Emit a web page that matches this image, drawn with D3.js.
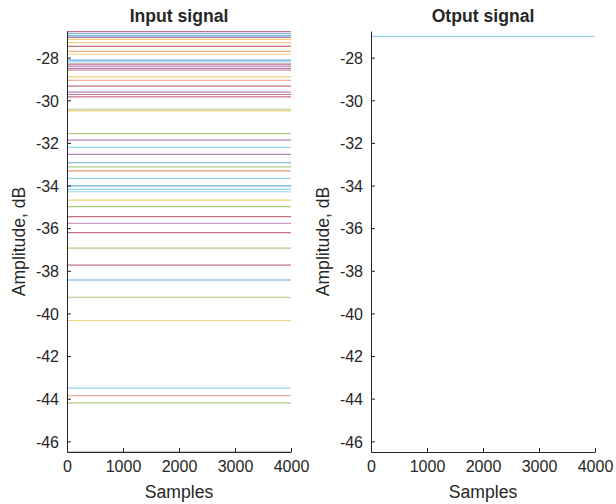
<!DOCTYPE html>
<html>
<head>
<meta charset="utf-8">
<script src="https://cdn.jsdelivr.net/npm/d3@7"></script>
<style>
  body{margin:0;background:#fff;}
  svg text{font-family:"Liberation Sans",Arial,sans-serif;fill:#262626;}
</style>
</head>
<body>
<svg id="plot" width="616" height="504"></svg>
<script>
//Data: every input channel is a flat level in dB over 0..4000 samples
const sampleRange = [0, 4000];
const xTicks = [0, 1000, 2000, 3000, 4000];
const yTicks = [-46, -44, -42, -40, -38, -36, -34, -32, -30, -28];
const yLimits = [-46.5, -26.75];

const inputLevels = [-26.78, -26.88, -26.98, -27.05, -27.14, -27.30, -27.47, -27.70, -27.84, -28.12,
    -28.20, -28.30, -28.40, -28.50, -28.58, -28.90, -29.06, -29.34, -29.62, -29.73,
    -29.84, -30.42, -30.50, -31.56, -31.87, -32.21, -32.54, -32.93, -33.12, -33.31,
    -33.66, -34.02, -34.18, -34.29, -34.68, -34.99, -35.46, -35.77, -36.21, -36.94,
    -37.73, -38.43, -39.24, -40.33, -43.50, -43.86, -44.20, -46.50];
const outputLevels = [-27.0];

//colour of each input line (MATLAB colour order letters)
const inputColorKeys = ["r","b","b","p","y","y","r","o","y","b",
    "c","r","p","p","r","y","o","r","p","r",
    "r","g","y","g","p","c","p","b","g","o",
    "c","b","c","c","y","g","r","p","r","g",
    "r","b","g","y","c","o","g","p"];
const outputColorKeys = ["c"];

const palette = {b:"#0072BD", o:"#D95319", y:"#EDB120", p:"#7E2F8E", g:"#77AC30", c:"#4DBEEE", r:"#A2142F"};

const svg = d3.select("#plot");
const plotTop = 31, plotBottom = 452;

//MATLAB prints plain hyphen minus and no thousands separator
const fmt = (v)=>String(v);

//Draw one MATLAB style panel
function drawPanel(left, right, title, levels, colorKeys){
    const x = d3.scaleLinear().domain(sampleRange).range([left, right]);
    const y = d3.scaleLinear().domain(yLimits).range([plotBottom, plotTop]);
    const g = svg.append("g");

    const line = d3.line().x(d=>x(d[0])).y(d=>y(d[1]));
    g.selectAll(".sig")
        .data(levels)
        .enter()
        .append("path")
        .attr("d",(d)=>line([[sampleRange[0],d],[sampleRange[1],d]]))
        .attr("fill","none")
        .attr("stroke",(d,i)=>palette[colorKeys[i]])
        .attr("stroke-opacity",0.6)
        .attr("stroke-width",1.2);

    //y axis, ticks pointing inside
    const yAxis = d3.axisLeft(y).tickValues(yTicks).tickFormat(fmt).tickSize(-4).tickPadding(8).tickSizeOuter(0);
    const ya = g.append("g").attr("transform",`translate(${left},0)`).call(yAxis);
    //x axis, ticks pointing inside
    const xAxis = d3.axisBottom(x).tickValues(xTicks).tickFormat(fmt).tickSize(-4).tickPadding(10).tickSizeOuter(0);
    const xa = g.append("g").attr("transform",`translate(0,${plotBottom})`).call(xAxis);

    [ya, xa].forEach(a=>{
        a.select(".domain").attr("stroke","#262626");
        a.selectAll(".tick line").attr("stroke","#262626");
        a.selectAll("text").style("font-size","16px").attr("fill","#333");
    });
    ya.selectAll("text").attr("dy","0.36em");
    xa.selectAll("text").attr("dy","0.62em");

    g.append("text")
        .attr("x",(left+right)/2)
        .attr("y",22)
        .attr("text-anchor","middle")
        .style("font-size","17.6px")
        .style("font-weight","bold")
        .attr("fill","#000")
        .text(title);

    g.append("text")
        .attr("x",(left+right)/2)
        .attr("y",498)
        .attr("text-anchor","middle")
        .style("font-size","17.6px")
        .attr("fill","#333")
        .text("Samples");

    g.append("text")
        .attr("transform",`translate(${left-42},${(plotTop+plotBottom)/2}) rotate(-90)`)
        .attr("text-anchor","middle")
        .style("font-size","17.6px")
        .attr("fill","#333")
        .text("Amplitude, dB");
}

drawPanel(67, 291, "Input signal", inputLevels, inputColorKeys);
drawPanel(371, 595, "Otput signal", outputLevels, outputColorKeys);
</script>
</body>
</html>
